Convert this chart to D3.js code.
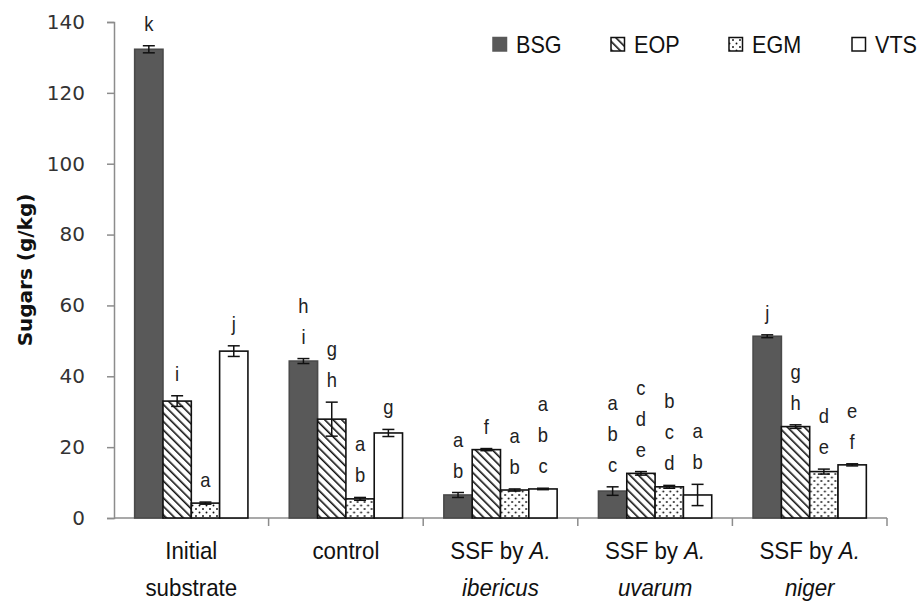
<!DOCTYPE html>
<html>
<head>
<meta charset="utf-8">
<script src="https://cdn.jsdelivr.net/npm/d3@7"></script>
<style>
  html, body { margin: 0; padding: 0; background: #fff; }
  svg { display: block; }
</style>
</head>
<body>
<svg id="chart" width="923" height="607"></svg>
<script>
// ---------- data ----------
const categories = ["Initial substrate", "control", "SSF by A. ibericus", "SSF by A. uvarum", "SSF by A. niger"];
const categoryLines = [
  [[["Initial", false]], [["substrate", false]]],
  [[["control", false]]],
  [[["SSF by ", false], ["A.", true]], [["ibericus", true]]],
  [[["SSF by ", false], ["A.", true]], [["uvarum", true]]],
  [[["SSF by ", false], ["A.", true]], [["niger", true]]]
];
const series = ["BSG", "EOP", "EGM", "VTS"];
const BSG = [132.3, 44.3, 6.5, 7.6, 51.3];
const EOP = [33.0, 27.9, 19.3, 12.6, 25.8];
const EGM = [4.2, 5.4, 7.9, 8.8, 13.1];
const VTS = [47.1, 24.0, 8.2, 6.5, 15.0];
const errBSG = [1.0, 0.7, 0.7, 1.2, 0.4];
const errEOP = [1.5, 4.8, 0.3, 0.5, 0.5];
const errEGM = [0.3, 0.4, 0.3, 0.4, 0.7];
const errVTS = [1.5, 1.0, 0.2, 3.0, 0.3];
const letBSG = ["k", "hi", "ab", "abc", "j"];
const letEOP = ["i", "gh", "f", "cde", "gh"];
const letEGM = ["a", "ab", "ab", "bcd", "de"];
const letVTS = ["j", "g", "abc", "ab", "ef"];
const yTicks = [0, 20, 40, 60, 80, 100, 120, 140];
const yTitle = "Sugars (g/kg)";

const valuesBy = { BSG, EOP, EGM, VTS };
const errorsBy = { BSG: errBSG, EOP: errEOP, EGM: errEGM, VTS: errVTS };
const lettersBy = { BSG: letBSG, EOP: letEOP, EGM: letEGM, VTS: letVTS };

// ---------- layout ----------
const svg = d3.select("#chart");
const mLeft = 114, mRight = 887, mTop = 22, mBottom = 518;
const y = d3.scaleLinear().domain([0, 140]).range([mBottom, mTop]);
const x0 = d3.scaleBand().domain(categories).range([mLeft, mRight]).paddingInner(0).paddingOuter(0);
const x1 = d3.scaleBand().domain(series).range([0, x0.bandwidth()]).paddingInner(0).paddingOuter(0.73);

// patterns
const defs = svg.append("defs");
const hatch = defs.append("pattern").attr("id", "hatch").attr("patternUnits", "userSpaceOnUse")
  .attr("width", 6).attr("height", 6).attr("patternTransform", "rotate(-45)");
hatch.append("rect").attr("width", 6).attr("height", 6).attr("fill", "#fff");
hatch.append("line").attr("x1", 0).attr("y1", 0).attr("x2", 0).attr("y2", 6)
  .attr("stroke", "#111").attr("stroke-width", 3.2);
const dots = defs.append("pattern").attr("id", "dots").attr("patternUnits", "userSpaceOnUse")
  .attr("width", 7).attr("height", 7);
dots.append("rect").attr("width", 7).attr("height", 7).attr("fill", "#fff");
dots.append("circle").attr("cx", 1.5).attr("cy", 1.5).attr("r", 0.95).attr("fill", "#111");
dots.append("circle").attr("cx", 5).attr("cy", 5).attr("r", 0.95).attr("fill", "#111");

const fills = { BSG: "#595959", EOP: "url(#hatch)", EGM: "url(#dots)", VTS: "#fff" };
const strokes = { BSG: "#4a4a4a", EOP: "#111", EGM: "#111", VTS: "#111" };

// ---------- axes ----------
const axisColor = "#8c8c8c";
const yAxis = svg.append("g").attr("transform", `translate(${mLeft},0)`)
  .call(d3.axisLeft(y).tickValues(yTicks).tickSize(7).tickPadding(22));
yAxis.select(".domain").attr("stroke", axisColor).attr("stroke-width", 1.5);
yAxis.selectAll(".tick line").attr("stroke", axisColor).attr("stroke-width", 1.5);
yAxis.selectAll(".tick text").attr("font-family", "'DejaVu Sans', Verdana, sans-serif")
  .attr("font-size", 20).attr("fill", "#333");

// x axis line and ticks at band boundaries
svg.append("line").attr("x1", mLeft).attr("x2", mRight).attr("y1", y(0)).attr("y2", y(0))
  .attr("stroke", axisColor).attr("stroke-width", 1.5);
svg.append("g").selectAll("line").data(categories).join("line")
  .attr("x1", d => x0(d) + x0.bandwidth()).attr("x2", d => x0(d) + x0.bandwidth())
  .attr("y1", y(0)).attr("y2", y(0) + 8)
  .attr("stroke", axisColor).attr("stroke-width", 1.5);

// x labels
const xl = svg.append("g");
categories.forEach((c, i) => {
  const cx = x0(c) + x0.bandwidth() / 2;
  categoryLines[i].forEach((line, li) => {
    const t = xl.append("text")
      .attr("transform", `translate(${cx},${559 + li * 37}) scale(0.93,1)`)
      .attr("text-anchor", "middle")
      .attr("font-family", "'Liberation Sans', Arial, sans-serif")
      .attr("font-size", 24).attr("fill", "#111");
    line.forEach(seg => {
      t.append("tspan").text(seg[0]).attr("font-style", seg[1] ? "italic" : "normal");
    });
  });
});

// y title
svg.append("text").attr("transform", `translate(32,${(mTop + mBottom) / 2}) rotate(-90)`)
  .attr("text-anchor", "middle")
  .attr("font-family", "'DejaVu Sans', Verdana, sans-serif").attr("font-weight", "bold")
  .attr("font-size", 20).attr("fill", "#111").text(yTitle);

// ---------- bars ----------
const groups = svg.append("g").selectAll("g").data(categories).join("g")
  .attr("transform", d => `translate(${x0(d)},0)`);

groups.each(function (c, ci) {
  const g = d3.select(this);
  series.forEach(s => {
    const v = valuesBy[s][ci], e = errorsBy[s][ci];
    const bx = x1(s), bw = x1.bandwidth();
    g.append("rect").attr("x", bx).attr("y", y(v)).attr("width", bw).attr("height", y(0) - y(v))
      .attr("fill", fills[s]).attr("stroke", strokes[s]).attr("stroke-width", 1.6);
    const cx = bx + bw / 2;
    g.append("line").attr("x1", cx).attr("x2", cx).attr("y1", y(v - e)).attr("y2", y(v + e))
      .attr("stroke", "#111").attr("stroke-width", 1.5);
    [v - e, v + e].forEach(val => {
      g.append("line").attr("x1", cx - 6).attr("x2", cx + 6).attr("y1", y(val)).attr("y2", y(val))
        .attr("stroke", "#111").attr("stroke-width", 1.5);
    });
    const letters = lettersBy[s][ci].split("");
    const n = letters.length;
    letters.forEach((l, li) => {
      const cy = y(v + e) - 22 - (n - 1 - li) * 31;
      g.append("text").attr("transform", `translate(${cx},${cy}) scale(0.92,1)`)
        .attr("dy", "0.35em")
        .attr("text-anchor", "middle")
        .attr("font-family", "'Liberation Sans', Arial, sans-serif")
        .attr("font-size", 20).attr("fill", "#222").text(l);
    });
  });
});

// ---------- legend ----------
const legendX = [493, 611, 729, 852];
const legend = svg.append("g");
series.forEach((s, i) => {
  legend.append("rect").attr("x", legendX[i]).attr("y", 37.5).attr("width", 13.5).attr("height", 13.5)
    .attr("fill", fills[s]).attr("stroke", s === "BSG" ? "#595959" : "#111").attr("stroke-width", 1.5);
  legend.append("text").attr("transform", `translate(${legendX[i] + 23},52.5) scale(0.9,1)`)
    .attr("font-family", "'Liberation Sans', Arial, sans-serif")
    .attr("font-size", 24).attr("fill", "#111").text(s);
});
</script>
</body>
</html>
